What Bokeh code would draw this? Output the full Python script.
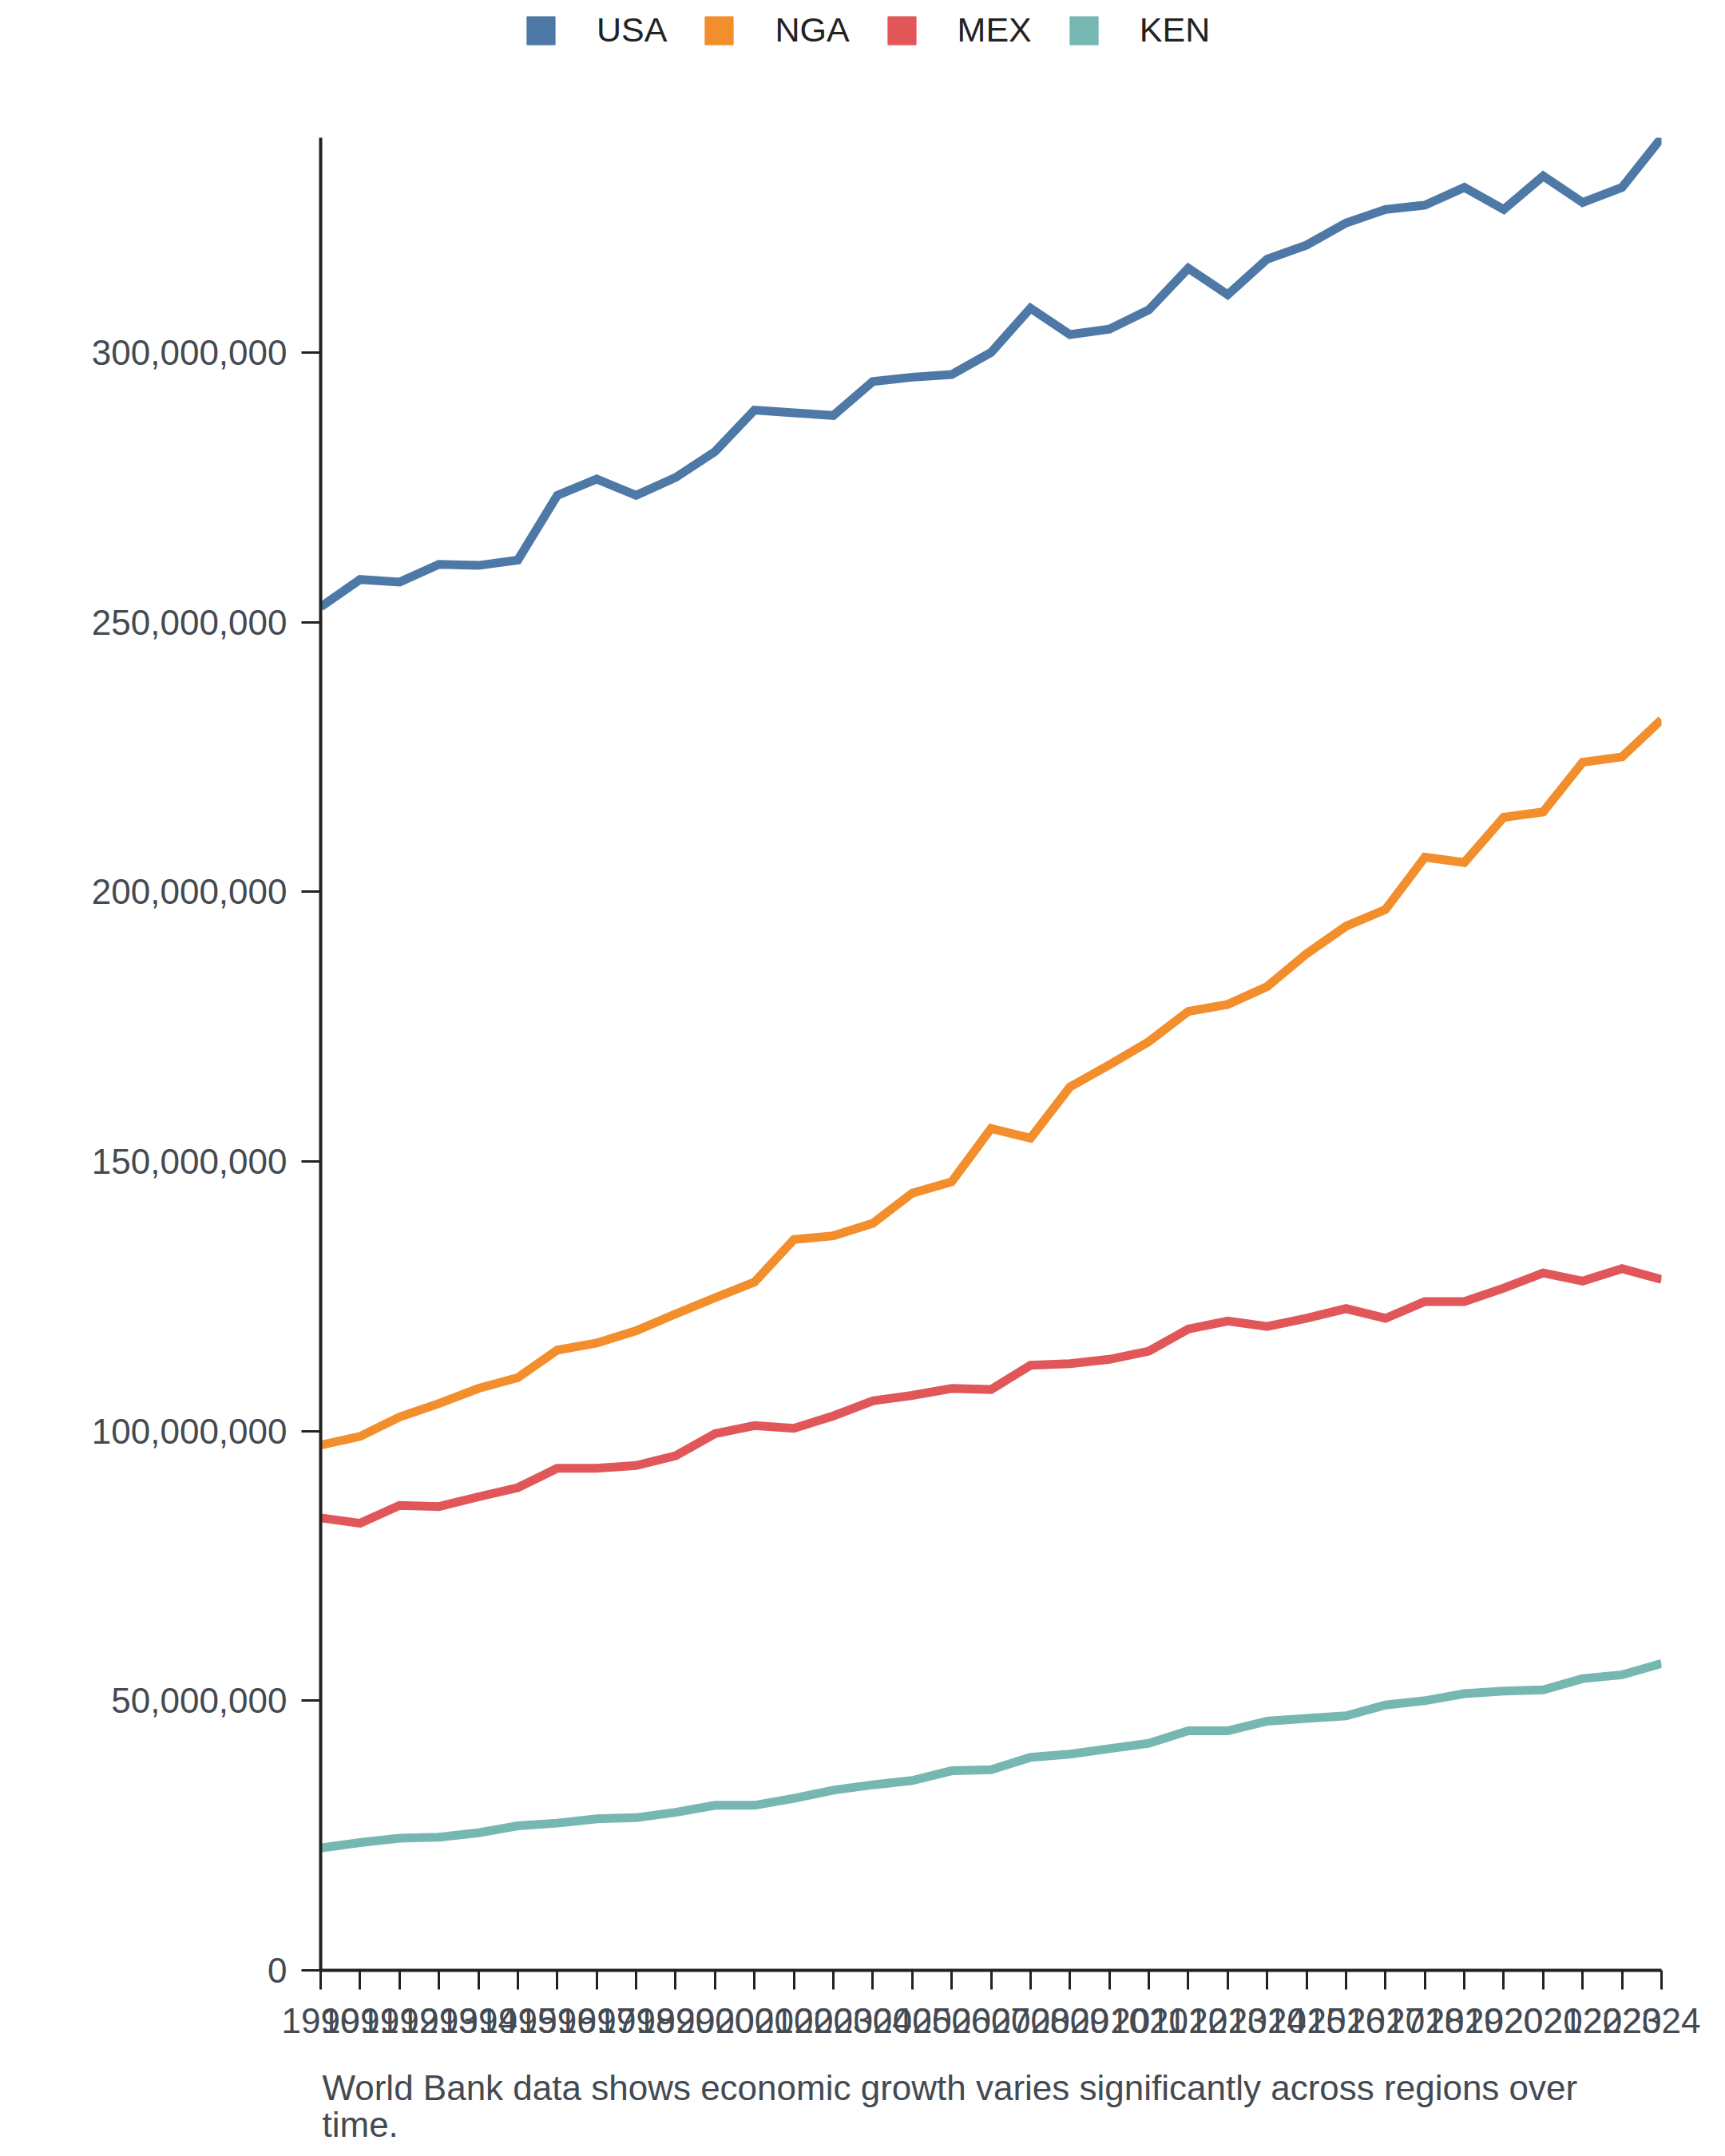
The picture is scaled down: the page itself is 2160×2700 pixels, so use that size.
from bokeh.plotting import figure
from bokeh.layouts import column
from bokeh.models import Range1d, FixedTicker, NumeralTickFormatter, Legend, LegendItem, Label
from bokeh.embed import file_html
from bokeh.resources import INLINE

years = list(range(1990, 2025))
usa = [252800000, 257900000, 257400000, 260700000, 260500000, 261500000, 273500000,
       276500000, 273500000, 276800000, 281600000, 289300000, 288800000, 288300000,
       294600000, 295400000, 295900000, 300000000, 308200000, 303300000, 304300000,
       307900000, 315600000, 310700000, 317300000, 319900000, 324000000, 326500000,
       327300000, 330600000, 326500000, 332700000, 327800000, 330600000, 339800000]
nga = [97400000, 99000000, 102600000, 105100000, 107900000, 109900000, 115000000,
       116300000, 118600000, 121700000, 124700000, 127600000, 135500000, 136200000,
       138500000, 144100000, 146200000, 156100000, 154300000, 163800000, 167900000,
       172200000, 177800000, 179100000, 182400000, 188500000, 193600000, 196700000,
       206400000, 205400000, 213800000, 214800000, 224000000, 225000000, 231900000]
mex = [83900000, 82900000, 86200000, 86000000, 87800000, 89500000, 93100000,
       93100000, 93600000, 95400000, 99500000, 101000000, 100500000, 102800000,
       105600000, 106600000, 107900000, 107700000, 112200000, 112500000, 113300000,
       114800000, 118900000, 120400000, 119400000, 120900000, 122700000, 120900000,
       124000000, 124000000, 126500000, 129300000, 127800000, 130100000, 128100000]
ken = [22700000, 23700000, 24500000, 24700000, 25500000, 26800000, 27300000,
       28100000, 28300000, 29300000, 30600000, 30600000, 31900000, 33400000,
       34400000, 35200000, 37000000, 37200000, 39500000, 40100000, 41100000,
       42100000, 44400000, 44400000, 46200000, 46700000, 47200000, 49200000,
       50000000, 51300000, 51800000, 52000000, 54100000, 54800000, 56900000]

series_names = ["USA", "NGA", "MEX", "KEN"]
series_values = [usa, nga, mex, ken]
colors = ["#4e79a7", "#f28e2b", "#e15759", "#76b7b2"]
y_ticks = [0, 50000000, 100000000, 150000000, 200000000, 250000000, 300000000]
caption_lines = ["World Bank data shows economic growth varies significantly across regions over",
                 "time."]

FONT = "Liberation Sans"
FS = "44px"
LEG_FS = "43px"
W = 2144
y_max = max(max(s) for s in series_values)


def bare(height):
    f = figure(width=W, height=height, output_backend="svg", toolbar_location=None,
               x_axis_location=None, y_axis_location=None, min_border=0,
               x_range=Range1d(0, 1), y_range=Range1d(0, 1))
    f.outline_line_color = None
    f.xgrid.visible = False
    f.ygrid.visible = False
    return f


# ---- legend strip ----
leg = bare(80)
items = []
for name, col in zip(series_names, colors):
    sq = leg.quad(left=[float("nan")], right=[float("nan")], top=[float("nan")],
                  bottom=[float("nan")], fill_color=col, line_color=col)
    items.append(LegendItem(label=name, renderers=[sq]))
legend = Legend(items=items, orientation="horizontal", location=(254, 18),
                glyph_width=44, glyph_height=44, label_height=44,
                label_standoff=48, spacing=43, padding=0, margin=0,
                border_line_alpha=0, background_fill_alpha=0,
                label_text_font=FONT, label_text_font_size=LEG_FS,
                label_text_color="#222222")
leg.add_layout(legend, "center")

# ---- main chart ----
p = figure(width=W, height=2500, output_backend="svg", toolbar_location=None,
           x_range=Range1d(years[0], years[-1]), y_range=Range1d(0, y_max),
           min_border_left=401, min_border_right=64, min_border_top=92,
           min_border_bottom=113)
p.outline_line_color = None
p.xgrid.visible = False
p.ygrid.visible = False

for name, vals, col in zip(series_names, series_values, colors):
    p.line(years, vals, line_color=col, line_width=11, line_join="miter")

for ax in (p.xaxis[0], p.yaxis[0]):
    ax.axis_line_color = "#222222"
    ax.axis_line_width = 4
    ax.major_tick_line_color = "#222222"
    ax.major_tick_line_width = 3
    ax.major_tick_out = 24
    ax.major_tick_in = 0
    ax.minor_tick_out = 0
    ax.minor_tick_in = 0
    ax.major_label_text_font = FONT
    ax.major_label_text_font_size = FS
    ax.major_label_text_color = "#444a52"

p.xaxis.ticker = FixedTicker(ticks=years)
p.xaxis.major_label_standoff = 23
p.yaxis.ticker = FixedTicker(ticks=y_ticks)
p.yaxis.formatter = NumeralTickFormatter(format="0,0")
p.yaxis.major_label_standoff = 18

# ---- caption ----
cap = bare(104)
for i, line in enumerate(caption_lines):
    cap.add_layout(Label(x=2, y=70 - 46 * i, x_units="screen", y_units="screen",
                         text=line, text_font=FONT, text_font_size=FS,
                         text_color="#444a52", text_baseline="alphabetic",
                         text_align="left"))

layout = column(leg, p, cap, spacing=0)
open("out.html", "w").write(file_html(layout, INLINE))
